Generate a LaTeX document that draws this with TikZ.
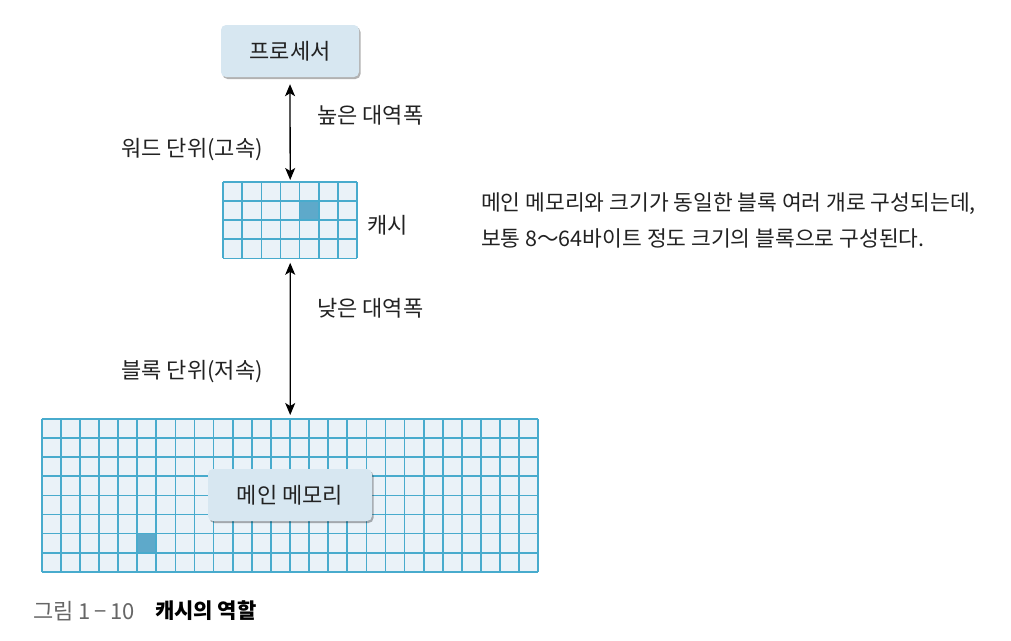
\documentclass[tikz,border=0pt]{standalone}
\usepackage{fontspec}
\setmainfont{Noto Sans CJK KR}
\usetikzlibrary{arrows.meta,shadows}
\definecolor{gridblue}{HTML}{48ABCD}
\definecolor{cellfill}{HTML}{EAF2F8}
\definecolor{darkcell}{HTML}{5EA9CA}
\definecolor{boxfill}{HTML}{D7E7F1}
\definecolor{txt}{HTML}{222222}
\definecolor{capgray}{HTML}{666666}
\tikzset{
  lbl/.style={inner sep=0pt, text=txt, font=\fontsize{22pt}{26pt}\selectfont},
  labelbox/.style={fill=boxfill, rounded corners=5pt, inner sep=0pt, text=txt,
    font=\fontsize{22pt}{26pt}\selectfont,
    drop shadow={shadow xshift=1.5pt, shadow yshift=-2pt, fill=black, opacity=0.3}},
  gridarea/.style={inner sep=0pt, anchor=north west},
  gridline/.style={draw=gridblue, line width=1.7pt},
  dblarrow/.style={{Stealth[length=12pt,width=10pt,inset=3pt]}-{Stealth[length=12pt,width=10pt,inset=3pt]}, line width=1.3pt, draw=black}
}
\begin{document}
\begin{tikzpicture}[x=1pt,y=-1pt]
\useasboundingbox[fill=white] (0,0) rectangle (1011,640);

% processor
\node[labelbox, minimum width=138pt, minimum height=52pt] (proc) at (290,51) {프로세서};

% cache grid
\node[gridarea, minimum width=133.7pt, minimum height=76.4pt] (cache) at (223.15,182) {};
\fill[cellfill] (cache.north west) rectangle (cache.south east);
\fill[darkcell] (223.15+4*19.1,182+19.1) rectangle ++(19.1,19.1);
\foreach \i in {0,...,7} \draw[gridline] (223.15+\i*19.1,182) -- ++(0,76.4);
\foreach \j in {0,...,4} \draw[gridline] (223.15,182+\j*19.1) -- ++(133.7,0);
\node[lbl, anchor=west] (cachelbl) at (367,225) {캐시};

% main memory grid
\node[gridarea, minimum width=496.6pt, minimum height=152.8pt] (mem) at (41.7,419) {};
\fill[cellfill] (mem.north west) rectangle (mem.south east);
\fill[darkcell] (41.7+5*19.1,419+6*19.1) rectangle ++(19.1,19.1);
\foreach \i in {0,...,26} \draw[gridline] (41.7+\i*19.1,419) -- ++(0,152.8);
\foreach \j in {0,...,8} \draw[gridline] (41.7,419+\j*19.1) -- ++(496.6,0);
\node[labelbox, minimum width=164pt, minimum height=52pt] (memlbl) at (290,495) {메인 메모리};

% arrows
\draw[dblarrow, shorten <=7pt, shorten >=2pt] (proc.south) -- (cache.north);
\draw[dblarrow, shorten <=4pt, shorten >=4pt] (cache.south) -- (mem.north);

% side labels
\node[lbl, anchor=west] (hi) at (317,115) {높은 대역폭};
\node[lbl, anchor=east] (word) at (263,150) {워드 단위(고속)};
\node[lbl, anchor=west] (lo) at (317,308) {낮은 대역폭};
\node[lbl, anchor=east] (block) at (263,372) {블록 단위(저속)};

% description
\node[inner sep=0pt, text=txt, anchor=west, align=left,
  font=\fontsize{21.5pt}{36pt}\selectfont] (desc) at (481,220)
  {메인 메모리와 크기가 동일한 블록 여러 개로 구성되는데,\\보통 8～64바이트 정도 크기의 블록으로 구성된다.};

% caption
\node[inner sep=0pt, anchor=west, text=capgray, font=\fontsize{22pt}{26pt}\selectfont] (capnum) at (33,611) {그림 1\,−\,10};
\node[inner sep=0pt, anchor=west, text=black, font=\fontsize{21pt}{26pt}\selectfont\bfseries] (captitle) at (155,611) {캐시의 역할};
\end{tikzpicture}
\end{document}
